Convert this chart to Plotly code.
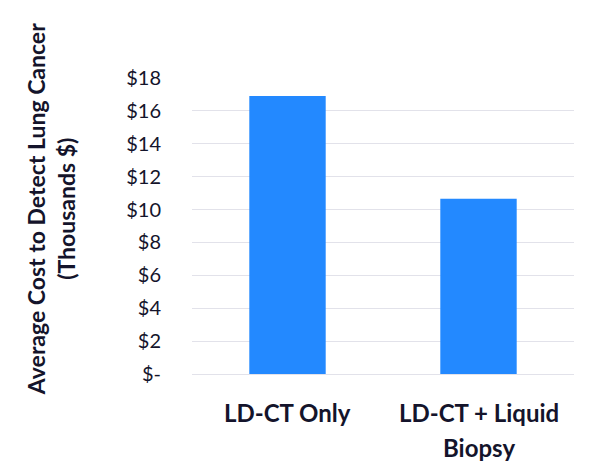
import plotly.graph_objects as go

categories = ["LD-CT Only", "LD-CT + Liquid<br>Biopsy"]
avg_cost = [16.9, 10.65]
tick_vals = [0, 2, 4, 6, 8, 10, 12, 14, 16, 18]
tick_text = ["$-", "$2", "$4", "$6", "$8", "$10", "$12", "$14", "$16", "$18"]
y_title = "Average Cost to Detect Lung Cancer<br>(Thousands $)"

ink = "#14142b"

trace = go.Bar(x=[0, 1], y=avg_cost, marker=dict(color="#2389FF", line=dict(width=0)),
               width=0.4, hoverinfo="y")

fig = go.Figure(data=[trace])

# category labels as annotations so the wide line spacing can be matched
for i, cat in enumerate(categories):
    for j, line in enumerate(cat.split("<br>")):
        fig.add_annotation(x=i, xref="x", y=0, yref="paper", yshift=-38 - 35 * j,
                           text=line, showarrow=False, yanchor="middle",
                           font=dict(family="Lato", size=24, color=ink, weight="bold"))

fig.add_annotation(text=y_title, textangle=-90, showarrow=False,
                   xref="paper", x=-0.369, xanchor="center",
                   yref="paper", y=0.557, yanchor="middle",
                   font=dict(family="Lato", size=23, color=ink, weight="bold"))

fig.update_layout(
    width=592, height=462,
    margin=dict(l=184, r=26, t=70, b=96),
    plot_bgcolor="white", paper_bgcolor="white",
    showlegend=False,
    font=dict(family="Lato", color=ink),
    xaxis=dict(range=[-0.5, 1.5], showticklabels=False, showgrid=False,
               zeroline=False, showline=False, fixedrange=True),
    yaxis=dict(range=[0, 18], tickvals=tick_vals, ticktext=tick_text,
               tickfont=dict(size=20, color=ink), ticklabelstandoff=30,
               showgrid=True, gridcolor="#e2e2ea", gridwidth=1,
               zeroline=True, zerolinecolor="#e2e2ea", zerolinewidth=1,
               showline=False, ticks=""),
)

fig.write_html("out.html")
